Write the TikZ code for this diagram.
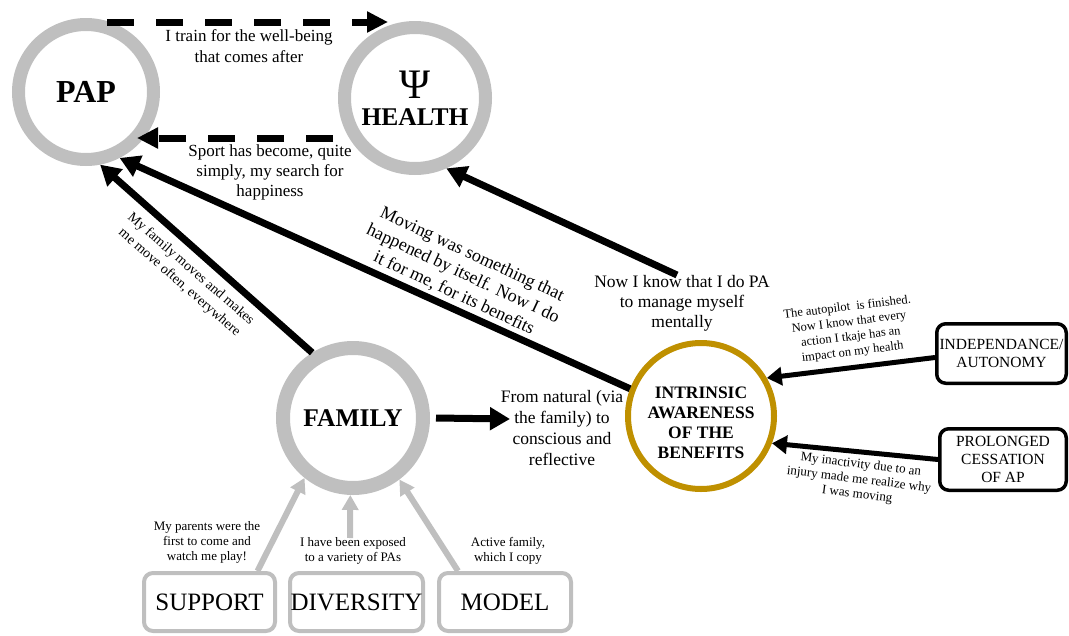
\documentclass[tikz,border=0pt]{standalone}
\usepackage{fontspec}
\setmainfont{Liberation Serif}
\usepackage{tikz}
\usetikzlibrary{arrows.meta,positioning}
\definecolor{ringgray}{RGB}{191,191,191}
\definecolor{ringgold}{RGB}{191,144,0}
\tikzset{
  circG/.style={ draw=ringgray, circle, line width=13pt, align=center, font=\bfseries\fontsize{25.5}{28}\selectfont }
}
\tikzset{
  circY/.style={ draw=ringgold, circle, line width=6pt, minimum size=146pt }
}
\tikzset{
  boxK/.style={ draw, rounded corners=9pt, line width=3.5pt, align=center, inner sep=0pt, font=\fontsize{15.5}{18}\selectfont }
}
\tikzset{
  boxG/.style={ draw=ringgray, rounded corners=9pt, line width=4pt, inner xsep=0pt, minimum height=58pt, font=\fontsize{25}{28}\selectfont }
}
\tikzset{
  lblS/.style={ align=center, inner sep=0pt, font=\fontsize{13}{15}\selectfont }
}
\tikzset{
  lblM/.style={ align=center, inner sep=0pt, font=\fontsize{17}{21}\selectfont }
}
\tikzset{
  arrK/.style={ line width=7pt, -{Triangle[length=20pt,width=22pt]} }
}
\tikzset{
  arrS/.style={ line width=5pt, -{Triangle[length=15pt,width=18pt]} }
}
\tikzset{
  arrG/.style={ draw=ringgray, line width=6pt, -{Triangle[length=15pt,width=16pt]} }
}
\tikzset{
  arrD/.style={ line width=7pt, dash pattern=on 27pt off 22pt, -{Triangle[length=21pt,width=20pt]} }
}

\begin{document}
\begin{tikzpicture}[y=-1pt, x=1pt]
  \useasboundingbox (0,0) rectangle (1069,635);
  % main circles
  \node[circG, minimum size=135pt, font=\bfseries\fontsize{32}{34}\selectfont] (pap) at (86,92) {PAP};
  \node[circG, minimum size=141pt] (health) at (415,98) {{\mdseries\fontsize{42}{42}\selectfont Ψ}\\[-1pt]HEALTH};
  \node[circG, minimum size=140pt, line width=14pt] (fam) at (353,418) {FAMILY};
  \node[circY, label={[align=center, yshift=-7pt, font=\bfseries\fontsize{17.5}{20}\selectfont]center:{INTRINSIC\\AWARENESS\\OF THE\\BENEFITS}}] (intr) at (701,416) {};
  % boxes
  \node[boxK, minimum width=129.5pt, minimum height=59.5pt] (ind) at (1001.5,353.5) {INDEPENDANCE/\\AUTONOMY};
  \node[boxK, minimum width=126.5pt, minimum height=61.5pt] (pro) at (1003,459.5) {PROLONGED\\CESSATION\\OF AP};
  \node[boxG, minimum width=131pt] (sup) at (209.5,602) {SUPPORT};
  \node[boxG, minimum width=133pt] (div) at (356.5,602) {DIVERSITY};
  \node[boxG, minimum width=132pt] (mod) at (505,602) {MODEL};
  \coordinate (nowtop) at (677,275);
  \coordinate (nat) at (510,419);
  \coordinate (divtop) at (350,538);
  % connectors
  \draw[arrD] ([xshift=21pt,yshift=-4pt]pap.north) -- ([xshift=-27pt,yshift=-1pt]health.north);
  \draw[arrD] ([xshift=-5pt,yshift=-40pt]health.west) -- ([xshift=-23pt,yshift=-46pt]pap.east);
  \draw[arrK] (fam.122) -- (pap.-79);
  \draw[arrK] (intr.159) -- (pap.-63);
  \draw[arrK] (nowtop) -- (health.-66);
  \draw[arrK] ([xshift=6pt]fam.east) -- (nat);
  \draw[arrS] ([yshift=-4pt]ind.west) -- (intr.30);
  \draw[arrS] (pro.west) -- (intr.-21);
  \draw[arrG] ([xshift=48pt]sup.north) -- (fam.-129);
  \draw[arrG] (divtop) -- (fam.-92);
  \draw[arrG] ([xshift=-47pt]mod.north) -- (fam.-53);
  % labels
  \node[lblM] (ltrain) at (249,46) {I train for the well-being\\that comes after};
  \node[lblM, font=\fontsize{17}{20}\selectfont] (lsport) at (270,172) {Sport has become, quite\\simply, my search for\\happiness};
  \node[lblS, font=\fontsize{14}{17.5}\selectfont, rotate=-41] (lmoves) at (185,276) {My family moves and makes\\me move often, everywhere};
  \node[lblM, font=\fontsize{18}{21.5}\selectfont, rotate=-25] (lmoving) at (463,274) {Moving was something that\\happened by itself. Now I do\\it for me, for its benefits};
  \node[lblM, font=\fontsize{17.5}{20}\selectfont] (lnow) at (682,303) {Now I know that I do PA\\to manage myself\\mentally};
  \node[lblM, font=\fontsize{17.5}{21}\selectfont] (lnat) at (562,428) {From natural (via\\the family) to\\conscious and\\reflective};
  \node[lblS, font=\fontsize{12.5}{15}\selectfont, rotate=7] (lauto) at (850,330) {The autopilot\ \ is finished.\\Now I know that every\\action I tkaje has an\\impact on my health};
  \node[lblS, rotate=-7] (linact) at (859,480) {My inactivity due to an\\injury made me realize why\\I was moving};
  \node[lblS] (lsup) at (207,542) {My parents were the\\first to come and\\watch me play!};
  \node[lblS] (ldiv) at (353,551) {I have been exposed\\to a variety of PAs};
  \node[lblS] (lmod) at (508,551) {Active family,\\which I copy};
\end{tikzpicture}
\end{document}
